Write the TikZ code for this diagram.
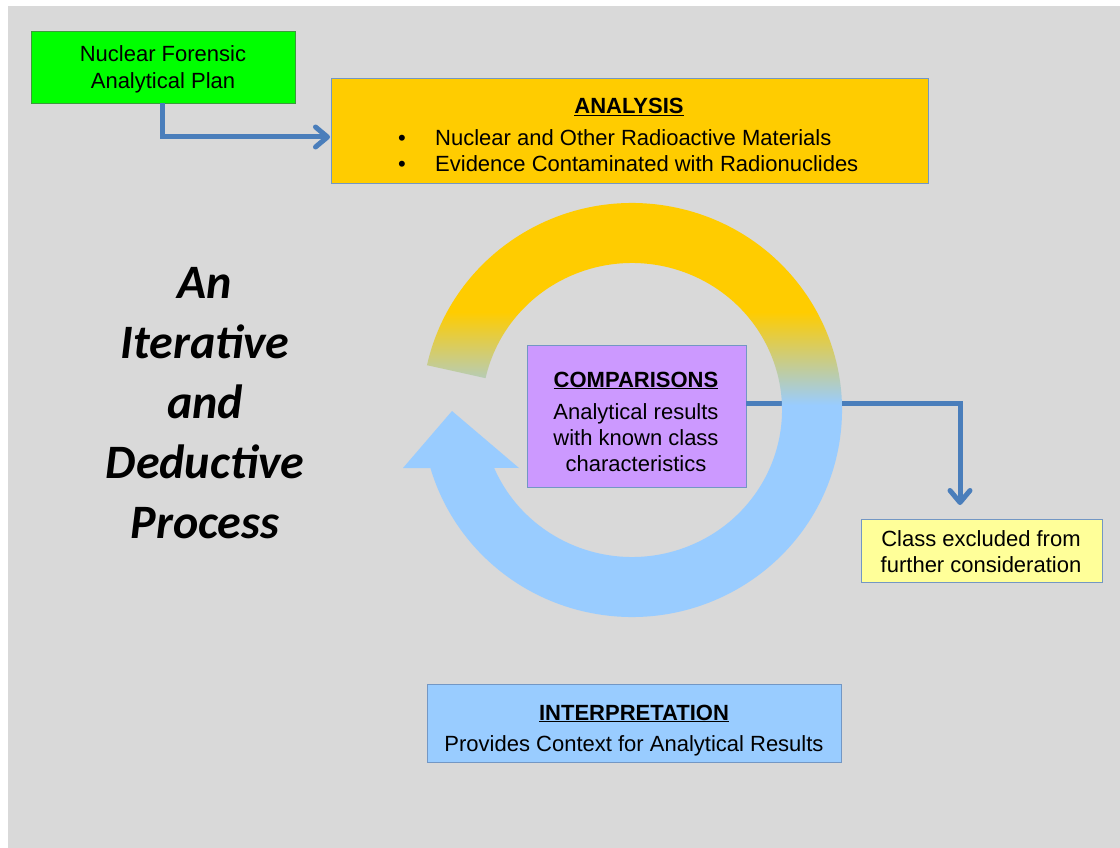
\documentclass[tikz,border=0pt]{standalone}
\usepackage{fontspec}
\setmainfont{Liberation Sans}
\newfontfamily\calib{Carlito}
\usetikzlibrary{arrows.meta,calc}
\definecolor{bg}{HTML}{D9D9D9}
\definecolor{gold}{HTML}{FFCC00}
\definecolor{skyb}{HTML}{99CCFF}
\definecolor{lilac}{HTML}{CC99FF}
\definecolor{paleyel}{HTML}{FFFF99}
\definecolor{plangreen}{HTML}{00FF00}
\definecolor{greenedge}{HTML}{3C9A3C}
\definecolor{edge}{HTML}{7397C4}
\definecolor{link}{HTML}{4A7EBB}

\begin{document}
\begin{tikzpicture}[x=1pt,y=-1pt,
  box/.style={draw=edge,line width=0.8pt,inner sep=0pt,outer sep=0pt},
  txt/.style={anchor=base,inner sep=0pt,font=\fontsize{22}{26}\selectfont},
  head/.style={txt,font=\fontsize{22}{26}\selectfont\bfseries},
  conn/.style={draw=link,line width=5pt,
    -{Straight Barb[length=12pt,width=20pt,round]}},
  big/.style={anchor=base,inner sep=0pt,font=\calib\bfseries\itshape\fontsize{48}{60}\selectfont}]
\useasboundingbox (0,0) rectangle (1120,848);
\fill[white] (0,0) rectangle (1120,848);
\fill[bg] (8,6) rectangle (1120,848);

% boxes
\node[box,draw=greenedge,fill=plangreen,minimum width=264pt,minimum height=72pt] (plan) at (163,67) {};
\node[box,fill=gold,minimum width=597pt,minimum height=105pt] (analysis) at (629.5,130.5) {};
\node[box,fill=lilac,minimum width=219pt,minimum height=142pt] (comp) at (636.5,416) {};
\node[box,fill=paleyel,minimum width=241pt,minimum height=63pt] (class) at (981.5,550.5) {};
\node[box,fill=skyb,minimum width=414pt,minimum height=78pt] (interp) at (634,723) {};

% connectors
\draw[conn,shorten >=1pt] ([xshift=-1pt]plan.south) |- ([yshift=-6.5pt]analysis.west);
\draw[conn,shorten >=14pt] ([yshift=13pt]comp.east) -| ([xshift=-21.5pt]class.north);

% circular arrow, gold fading into blue
\begin{scope}
  \clip ($(632,410)+(192.5:210 and 207)$)
    arc[start angle=192.5,end angle=523.7,x radius=210,y radius=207]
    -- (403,468) -- (452,411) -- (519,468)
    -- ($(632,410)+(516.8:150 and 147)$)
    arc[start angle=516.8,end angle=192.5,x radius=150,y radius=147] -- cycle;
  \fill[gold] (390,190) rectangle (870,312);
  \shade[top color=gold,bottom color=skyb] (390,312) rectangle (870,405);
  \fill[skyb] (390,405) rectangle (870,640);
\end{scope}

% texts
\node[txt] (plan1) at (163,62) {Nuclear Forensic};
\node[txt] (plan2) at (163,89) {Analytical Plan};

\node[head] (antitle) at (629,114) {\underline{ANALYSIS}};
\node[txt] (bul1) at (402,146) {\textbullet};
\node[txt,anchor=base west] (an1) at (435,146) {Nuclear and Other Radioactive Materials};
\node[txt] (bul2) at (402,172) {\textbullet};
\node[txt,anchor=base west] (an2) at (435,172) {Evidence Contaminated with Radionuclides};

\node[head] (comptitle) at (636,387) {\underline{COMPARISONS}};
\node[txt] (comp1) at (636,419) {Analytical results};
\node[txt] (comp2) at (636,445) {with known class};
\node[txt] (comp3) at (636,471) {characteristics};

\node[txt] (class1) at (981,546) {Class excluded from};
\node[txt] (class2) at (981,572) {further consideration};

\node[head] (intitle) at (634,720) {\underline{INTERPRETATION}};
\node[txt] (in1) at (634,751) {Provides Context for Analytical Results};

\node[big] (w1) at (205,298) {An};
\node[big] (w2) at (205,358) {Iterative};
\node[big] (w3) at (205,418) {and};
\node[big] (w4) at (205,478) {Deductive};
\node[big] (w5) at (205,538) {Process};
\end{tikzpicture}
\end{document}
